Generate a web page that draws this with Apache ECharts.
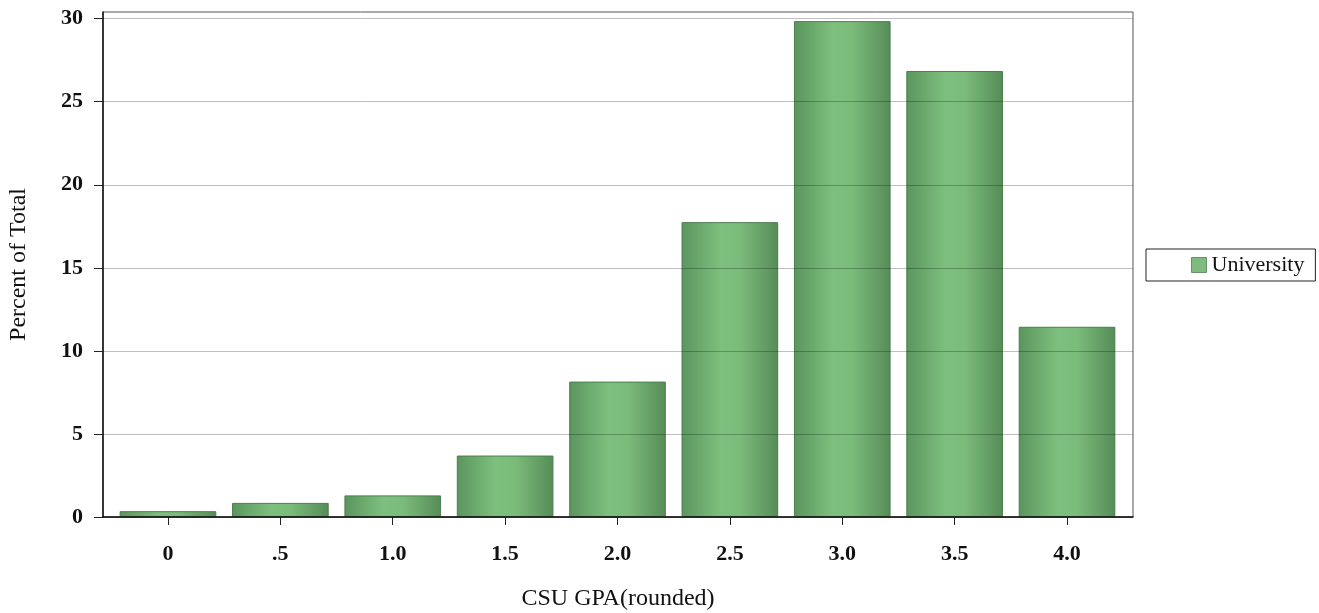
<!DOCTYPE html>
<html>
<head>
<meta charset="utf-8">
<script src="https://cdn.jsdelivr.net/npm/echarts@6/dist/echarts.min.js"></script>
<style>
html,body{margin:0;padding:0;background:#fff;}
#chart{width:1319px;height:613px;}
</style>
</head>
<body>
<div id="chart"></div>
<script>
const categories = ['0', '.5', '1.0', '1.5', '2.0', '2.5', '3.0', '3.5', '4.0'];
const universityValues = [0.35, 0.85, 1.3, 3.7, 8.15, 17.75, 29.85, 26.85, 11.45];
const yTicks = [0, 5, 10, 15, 20, 25, 30];
const seriesName = 'University';
const xAxisTitle = 'CSU GPA(rounded)';
const yAxisTitle = 'Percent of Total';

const serif = '"Liberation Serif", "Times New Roman", serif';
const Y_MAX = 30.4;
const barGradient = new echarts.graphic.LinearGradient(0, 0, 1, 0, [
  { offset: 0, color: '#5a955d' },
  { offset: 0.4, color: '#7dbf7e' },
  { offset: 0.6, color: '#7bbc7b' },
  { offset: 1, color: '#568c57' }
]);

const chart = echarts.init(document.getElementById('chart'), null, { renderer: 'canvas' });
chart.setOption({
  animation: false,
  backgroundColor: '#ffffff',
  grid: [
    { left: 111.8, right: 195.8, top: 12, bottom: 96, containLabel: false, outerBoundsMode: 'none', show: false },
    { left: 103, right: 186, top: 12, bottom: 96, containLabel: false, outerBoundsMode: 'none', show: true,
      borderColor: '#555', borderWidth: 1, backgroundColor: 'transparent' }
  ],
  legend: {
    show: true,
    data: [{ name: seriesName, icon: 'rect', itemStyle: { color: '#7dbb7e', borderColor: '#6a8f6b', borderWidth: 1 } }],
    left: 1146,
    top: 249,
    itemWidth: 15,
    itemHeight: 15,
    itemGap: 10,
    padding: [5, 11, 5, 45],
    borderColor: '#222',
    borderWidth: 1,
    borderRadius: 0,
    textStyle: { fontFamily: serif, fontSize: 22, color: '#111' }
  },
  xAxis: [
    {
      type: 'category',
      gridIndex: 0,
      data: categories,
      position: 'bottom',
      axisLine: { show: false },
      axisTick: { show: true, alignWithLabel: true, length: 8, lineStyle: { color: '#222' } },
      axisLabel: { fontFamily: serif, fontSize: 22, fontWeight: 'bold', color: '#111', margin: 26 },
      splitLine: { show: false }
    },
    {
      type: 'value',
      gridIndex: 1,
      min: 0,
      max: 1,
      position: 'bottom',
      name: xAxisTitle,
      nameLocation: 'middle',
      nameGap: 70,
      nameTextStyle: { fontFamily: serif, fontSize: 24, color: '#111' },
      axisLine: { show: true, lineStyle: { color: '#111', width: 1.5 } },
      axisTick: { show: false },
      axisLabel: { show: false },
      splitLine: { show: false },
      z: 10
    }
  ],
  yAxis: [
    {
      type: 'value',
      gridIndex: 0,
      min: 0,
      max: Y_MAX,
      show: false
    },
    {
      type: 'value',
      gridIndex: 1,
      min: 0,
      max: Y_MAX,
      interval: 5,
      name: yAxisTitle,
      nameLocation: 'middle',
      nameGap: 72,
      nameTextStyle: { fontFamily: serif, fontSize: 24, color: '#111' },
      axisLine: { show: true, lineStyle: { color: '#111', width: 1.5 } },
      axisTick: { show: true, length: 9, customValues: yTicks, lineStyle: { color: '#222' } },
      axisLabel: {
        fontFamily: serif, fontSize: 22, fontWeight: 'bold', color: '#111', margin: 20,
        customValues: yTicks,
        formatter: function (v) { return (v % 5 === 0) ? String(v) : ''; }
      },
      splitLine: { show: true, lineStyle: { color: 'rgba(0,0,0,0.25)', width: 1 } },
      z: 3
    }
  ],
  series: [
    {
      name: seriesName,
      type: 'bar',
      data: universityValues,
      xAxisIndex: 0,
      yAxisIndex: 0,
      barCategoryGap: '14%',
      itemStyle: {
        color: barGradient,
        borderColor: '#4b7d4d',
        borderWidth: 1
      },
      z: 2
    }
  ]
});
</script>
</body>
</html>
